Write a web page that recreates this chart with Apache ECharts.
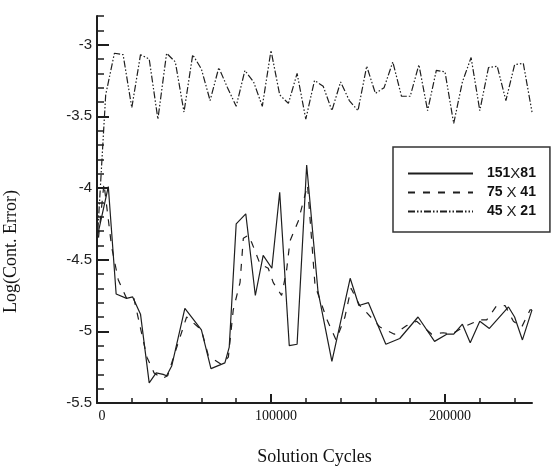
<!DOCTYPE html>
<html>
<head>
<meta charset="utf-8">
<script src="https://cdn.jsdelivr.net/npm/echarts@6/dist/echarts.min.js"></script>
<style>
  html, body { margin: 0; padding: 0; background: #fff; }
  #chart { width: 552px; height: 471px; }
</style>
</head>
<body>
<div id="chart"></div>
<script>
// Grid 45 X 21 residual history, sampled every 5000 cycles
const cycles45 = [0, 5000, 10000, 15000, 20000, 25000, 30000, 35000, 40000, 45000,
  50000, 55000, 60000, 65000, 70000, 75000, 80000, 85000, 90000, 95000,
  100000, 105000, 110000, 115000, 120000, 125000, 130000, 135000, 140000, 145000,
  150000, 155000, 160000, 165000, 170000, 175000, 180000, 185000, 190000, 195000,
  200000, 205000, 210000, 215000, 220000, 225000, 230000, 235000, 240000, 245000, 250000];
const err45 = [-4.40, -3.35, -3.06, -3.07, -3.44, -3.07, -3.10, -3.52, -3.06, -3.12,
  -3.47, -3.07, -3.17, -3.39, -3.16, -3.30, -3.43, -3.18, -3.26, -3.43,
  -3.04, -3.35, -3.41, -3.20, -3.52, -3.25, -3.29, -3.46, -3.26, -3.39,
  -3.46, -3.15, -3.34, -3.30, -3.12, -3.36, -3.36, -3.14, -3.46, -3.18,
  -3.19, -3.55, -3.26, -3.09, -3.46, -3.16, -3.15, -3.39, -3.14, -3.13, -3.47];

// Grid 151 X 81
const cycles151 = [0, 6500, 11000, 17000, 20500, 25000, 30000, 34000, 38000, 40000,
  43000, 50500, 60000, 65500, 73500, 76000, 80000, 85500, 91000, 95500,
  100500, 105000, 110500, 115000, 120500, 127000, 135000, 145500, 150500, 156000,
  166000, 174000, 184500, 194000, 201000, 205000, 210000, 214500, 220000, 225500,
  236500, 240000, 244500, 250000];
const err151 = [-4.35, -3.99, -4.74, -4.77, -4.76, -4.88, -5.36, -5.29, -5.30, -5.31,
  -5.24, -4.84, -4.99, -5.26, -5.22, -5.11, -4.25, -4.18, -4.75, -4.47,
  -4.56, -4.03, -5.10, -5.09, -3.84, -4.72, -5.21, -4.63, -4.82, -4.80,
  -5.09, -5.05, -4.90, -5.07, -5.02, -5.02, -4.95, -5.08, -4.93, -4.98,
  -4.83, -4.90, -5.06, -4.85];

// Grid 75 X 41
const cycles75 = [0, 4000, 8400, 12200, 17000, 21000, 28700, 32800, 37400, 40600,
  44800, 51500, 60000, 64000, 71300, 75500, 78300, 82200, 84100, 87000,
  88900, 93700, 98400, 101300, 106100, 109000, 110900, 115700, 121000, 125300,
  132200, 137400, 142500, 146000, 151000, 155000, 162600, 170900, 178000, 183700,
  192400, 199000, 203900, 210500, 220100, 224000, 229700, 234500, 239300, 244100,
  248900, 250000];
const err75 = [-4.45, -3.97, -4.41, -4.64, -4.77, -4.76, -5.18, -5.29, -5.33, -5.31,
  -5.15, -4.90, -4.99, -5.17, -5.23, -5.18, -4.85, -4.66, -4.35, -4.33,
  -4.38, -4.53, -4.56, -4.66, -4.75, -4.57, -4.37, -4.23, -3.98, -4.68,
  -4.92, -5.06, -4.90, -4.70, -4.82, -4.87, -4.97, -5.02, -4.96, -4.93,
  -5.02, -5.01, -5.02, -4.97, -4.92, -4.92, -4.82, -4.82, -4.93, -4.97,
  -4.85, -4.85];

// Axis ticks and labels
const xMajorTicks = [0, 100000, 200000];
const xMinorTicks = [20000, 40000, 60000, 80000, 120000, 140000, 160000, 180000, 220000, 240000];
const yMajorTicks = [-5.5, -5, -4.5, -4, -3.5, -3];
const yMinorTicks = [-5.4, -5.3, -5.2, -5.1, -4.9, -4.8, -4.7, -4.6, -4.4, -4.3, -4.2, -4.1,
  -3.9, -3.8, -3.7, -3.6, -3.4, -3.3, -3.2, -3.1, -2.9, -2.8];

const seriesNames = ['151X81', '75 X 41', '45 X 21'];

const pairs = (xs, ys) => xs.map((x, i) => [x, ys[i]]);

const ink = '#1e1e1e';
const serif = '"Liberation Serif", "DejaVu Serif", serif';
const sans = '"Liberation Sans", Arial, sans-serif';

const xRange = { min: 0, max: 250000 };
const yRange = { min: -5.5, max: -2.8 };

const chart = echarts.init(document.getElementById('chart'), null, { renderer: 'canvas' });

chart.setOption({
  backgroundColor: '#ffffff',
  animation: false,
  grid: { left: 97, right: 20, top: 16, bottom: 68, containLabel: false, outerBoundsMode: 'none' },
  legend: {
    orient: 'vertical',
    left: 393,
    top: 147,
    padding: [19, 14, 13, 14],
    itemGap: 4,
    itemWidth: 65,
    itemHeight: 14,
    backgroundColor: '#ffffff',
    borderColor: '#333333',
    borderWidth: 1.5,
    borderRadius: 0,
    selectedMode: false,
    data: seriesNames,
    // line-only keys: the marker drawn by the line legend is made invisible
    itemStyle: { color: 'rgba(0,0,0,0)', borderColor: 'rgba(0,0,0,0)', borderWidth: 0, opacity: 0 },
    formatter: name => name.split('X').map(s => '{b|' + s + '}').join('{x|X}'),
    textStyle: {
      padding: [0, 0, 0, 9],
      rich: {
        b: { fontFamily: sans, fontWeight: 'bold', fontSize: 14, color: '#111' },
        x: { fontFamily: sans, fontWeight: 'normal', fontSize: 15, color: '#222' }
      }
    }
  },
  xAxis: [
    {
      type: 'value', ...xRange, position: 'bottom',
      name: 'Solution Cycles', nameLocation: 'middle', nameGap: 45,
      nameTextStyle: { fontFamily: serif, fontSize: 18, color: '#111' },
      axisLine: { show: true, onZero: false, lineStyle: { color: ink, width: 2 } },
      axisTick: { show: true, inside: true, length: 5, customValues: xMinorTicks, lineStyle: { color: ink, width: 1.5 } },
      axisLabel: {
        customValues: xMajorTicks, margin: 6, padding: [0, 0, 0, 10],
        fontFamily: serif, fontSize: 14, color: '#111',
        formatter: v => String(v)
      },
      splitLine: { show: false }
    },
    {
      type: 'value', ...xRange, position: 'bottom',
      axisLine: { show: false, onZero: false },
      axisTick: { show: true, inside: true, length: 9, customValues: xMajorTicks, lineStyle: { color: ink, width: 2 } },
      axisLabel: { show: false },
      splitLine: { show: false }
    }
  ],
  yAxis: [
    {
      type: 'value', ...yRange, position: 'left',
      name: 'Log(Cont. Error)', nameLocation: 'middle', nameGap: 77,
      nameTextStyle: { fontFamily: serif, fontSize: 18, color: '#111', padding: [0, 84, 0, 0] },
      axisLine: { show: true, onZero: false, lineStyle: { color: ink, width: 2 } },
      axisTick: { show: true, inside: true, length: 7, customValues: yMinorTicks, lineStyle: { color: ink, width: 1.5 } },
      axisLabel: {
        customValues: yMajorTicks, margin: 5,
        fontFamily: sans, fontSize: 15, color: '#222'
      },
      splitLine: { show: false }
    },
    {
      type: 'value', ...yRange, position: 'left',
      axisLine: { show: false, onZero: false },
      axisTick: { show: true, inside: true, length: 12, customValues: yMajorTicks, lineStyle: { color: ink, width: 2 } },
      axisLabel: { show: false },
      splitLine: { show: false }
    }
  ],
  series: [
    {
      name: seriesNames[0], type: 'line', xAxisIndex: 0, yAxisIndex: 0,
      data: pairs(cycles151, err151), symbol: 'none', showSymbol: false,
      lineStyle: { color: ink, width: 1.2, type: 'solid' },
      itemStyle: { color: ink }
    },
    {
      name: seriesNames[1], type: 'line', xAxisIndex: 0, yAxisIndex: 0,
      data: pairs(cycles75, err75), symbol: 'none', showSymbol: false,
      lineStyle: { color: ink, width: 1.2, type: [7, 8] },
      itemStyle: { color: ink }
    },
    {
      name: seriesNames[2], type: 'line', xAxisIndex: 0, yAxisIndex: 0,
      data: pairs(cycles45, err45), symbol: 'none', showSymbol: false,
      lineStyle: { color: ink, width: 1.2, type: [7, 2, 1.5, 2, 1.5, 2] },
      itemStyle: { color: ink }
    }
  ]
});
</script>
</body>
</html>
